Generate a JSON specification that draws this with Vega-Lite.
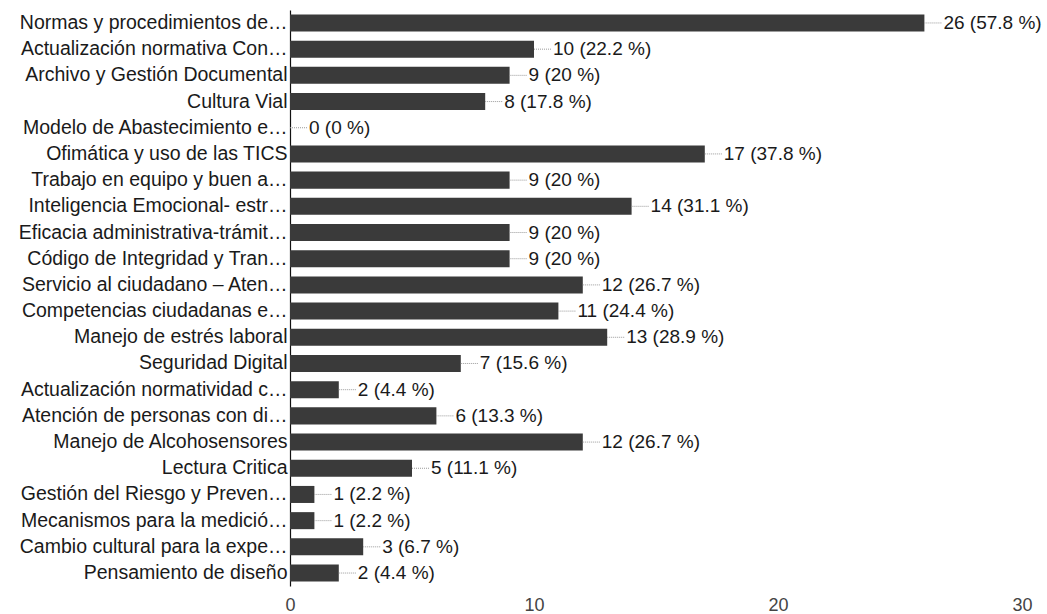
{
  "$schema": "https://vega.github.io/schema/vega-lite/v6.json",
  "width": 732,
  "height": 576,
  "autosize": {"type": "none"},
  "padding": {"left": 290, "top": 10, "right": 25, "bottom": 28},
  "background": "white",
  "config": {"view": {"stroke": null}, "font": "Liberation Sans"},
  "data": {"values": [
    {"label": "Normas y procedimientos de…", "value": 26, "text": "26 (57.8 %)"},
    {"label": "Actualización normativa Con…", "value": 10, "text": "10 (22.2 %)"},
    {"label": "Archivo y Gestión Documental", "value": 9, "text": "9 (20 %)"},
    {"label": "Cultura Vial", "value": 8, "text": "8 (17.8 %)"},
    {"label": "Modelo de Abastecimiento e…", "value": 0, "text": "0 (0 %)"},
    {"label": "Ofimática y uso de las TICS", "value": 17, "text": "17 (37.8 %)"},
    {"label": "Trabajo en equipo y buen a…", "value": 9, "text": "9 (20 %)"},
    {"label": "Inteligencia Emocional- estr…", "value": 14, "text": "14 (31.1 %)"},
    {"label": "Eficacia administrativa-trámit…", "value": 9, "text": "9 (20 %)"},
    {"label": "Código de Integridad y Tran…", "value": 9, "text": "9 (20 %)"},
    {"label": "Servicio al ciudadano – Aten…", "value": 12, "text": "12 (26.7 %)"},
    {"label": "Competencias ciudadanas e…", "value": 11, "text": "11 (24.4 %)"},
    {"label": "Manejo de estrés laboral", "value": 13, "text": "13 (28.9 %)"},
    {"label": "Seguridad Digital", "value": 7, "text": "7 (15.6 %)"},
    {"label": "Actualización normatividad c…", "value": 2, "text": "2 (4.4 %)"},
    {"label": "Atención de personas con di…", "value": 6, "text": "6 (13.3 %)"},
    {"label": "Manejo de Alcohosensores", "value": 12, "text": "12 (26.7 %)"},
    {"label": "Lectura Critica", "value": 5, "text": "5 (11.1 %)"},
    {"label": "Gestión del Riesgo y Preven…", "value": 1, "text": "1 (2.2 %)"},
    {"label": "Mecanismos para la medició…", "value": 1, "text": "1 (2.2 %)"},
    {"label": "Cambio cultural para la expe…", "value": 3, "text": "3 (6.7 %)"},
    {"label": "Pensamiento de diseño", "value": 2, "text": "2 (4.4 %)"}
  ]},
  "encoding": {
    "y": {
      "field": "label", "type": "nominal", "sort": null, "title": null,
      "scale": {"paddingInner": 0.35, "paddingOuter": 0.17},
      "axis": {"domain": true, "domainColor": "#111", "domainWidth": 1.2, "ticks": false, "labelFontSize": 19.5, "labelColor": "#1a1a1a", "labelPadding": 3, "labelLimit": 0}
    }
  },
  "layer": [
    {
      "mark": {"type": "bar", "color": "#3a3a3a"},
      "encoding": {
        "x": {
          "field": "value", "type": "quantitative", "title": null,
          "scale": {"domain": [0, 30], "nice": false},
          "axis": {"values": [0, 10, 20, 30], "domain": false, "ticks": false, "grid": false, "labelFontSize": 18, "labelColor": "#444", "labelPadding": 10, "labelFlush": false}
        }
      }
    },
    {
      "mark": {"type": "rule", "color": "#999", "strokeDash": [1, 1], "x2Offset": 17, "strokeWidth": 1},
      "encoding": {
        "x": {"field": "value", "type": "quantitative"},
        "x2": {"field": "value"}
      }
    },
    {
      "mark": {"type": "text", "align": "left", "baseline": "middle", "dx": 19, "fontSize": 19, "color": "#1a1a1a"},
      "encoding": {
        "x": {"field": "value", "type": "quantitative"},
        "text": {"field": "text"}
      }
    }
  ]
}
